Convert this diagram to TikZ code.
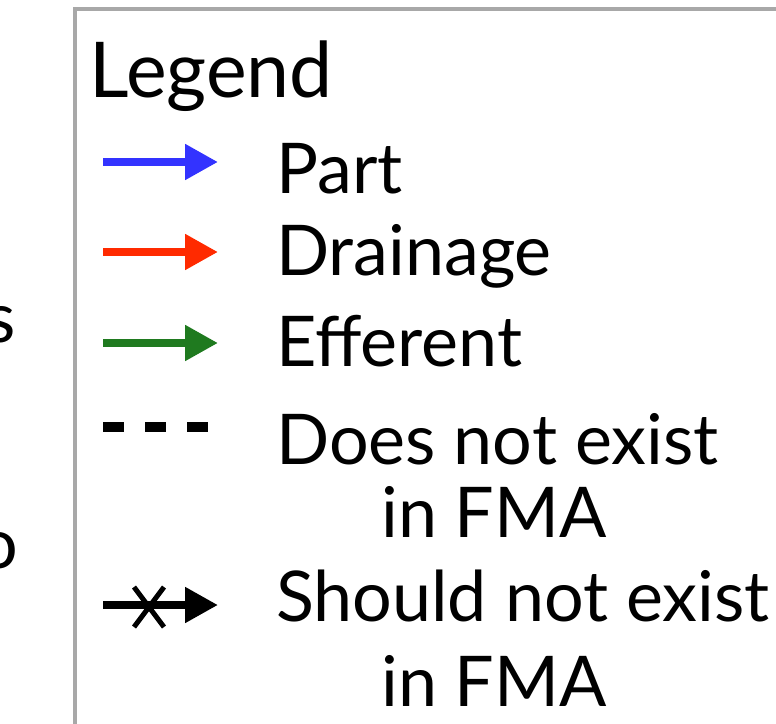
\documentclass[tikz,border=0pt]{standalone}
\usepackage{fontspec}
\setmainfont{Lato}
\usetikzlibrary{arrows.meta}

\definecolor{partblue}{HTML}{3333FF}
\definecolor{drainred}{HTML}{FF2A00}
\definecolor{efferentgreen}{HTML}{1F7A1F}
\definecolor{boxgray}{HTML}{A8A8A8}

\tikzset{
  label/.style={anchor=base west, inner sep=0pt, font=\fontsize{70}{82}\selectfont},
  legarrow/.style={line width=8pt, -{Triangle[length=33pt,width=34pt]}},
}

\begin{document}
\begin{tikzpicture}[x=1pt,y=-1pt]
        \useasboundingbox (0,0) rectangle (776,723);
        \clip (0,0) rectangle (776,723);
        % cut off letters of the diagram on the left
        \node[label, anchor=base east] (cuts) at (16,342) {s};
        \node[label, anchor=base east] (cuto) at (18,568) {o};
        % legend frame
        \draw[boxgray, line width=4pt](75,8.5) rectangle (820,800);
        \node[label, font=\fontsize{77}{90}\selectfont] (legend) at (89,97) {Legend};
        % entries
        \node[label] (part) at (276,193) {Part};
        \node[label] (drain) at (276,275) {Drainage};
        \node[label] (effer) at (276,366) {Efferent};
        \node[label] (doesnot) at (276,464) {Does not exist};
        \node[label] (doesfma) at (381,537) {in FMA};
        \node[label] (shouldnot) at (276,621) {Should not exist};
        \node[label] (shouldfma) at (381,706) {in FMA};
        % samples
        \coordinate (pa) at (103,162);  \coordinate (pb) at (218,162);
        \coordinate (da) at (103,252);  \coordinate (db) at (218,252);
        \coordinate (ea) at (103,343);  \coordinate (eb) at (218,343);
        \coordinate (na) at (103,427);  \coordinate (nb) at (209,427);
        \coordinate (sa) at (103,605);  \coordinate (sb) at (218,605);
        \draw[legarrow, partblue](pa)--(pb);
        \draw[legarrow, drainred](da)--(db);
        \draw[legarrow, efferentgreen](ea)--(eb);
        \draw[black, line width=10pt, dash pattern=on 21pt off 21pt](na)--(nb);
        \draw[legarrow, black](sa)--(sb);
        \draw[black, line width=5pt](134,587)--(164,627);
        \draw[black, line width=5pt](164,587)--(134,627);
    \end{tikzpicture}
\end{document}
